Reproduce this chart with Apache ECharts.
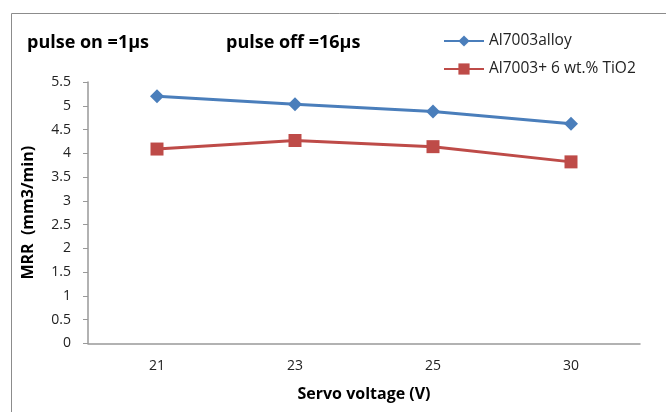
<!DOCTYPE html>
<html>
<head>
<meta charset="utf-8">
<script src="https://cdn.jsdelivr.net/npm/echarts@6/dist/echarts.min.js"></script>
<style>html,body{margin:0;padding:0;background:#fff}#c{width:666px;height:412px}</style>
</head>
<body>
<div id="c"></div>
<script>
const categories = ['21', '23', '25', '30'];
const alloyValues = [5.2, 5.03, 4.88, 4.62];
const tio2Values = [4.09, 4.27, 4.14, 3.82];
const seriesNames = ['Al7003alloy', 'Al7003+ 6 wt.% TiO2'];
const yTicks = { min: 0, max: 5.5, interval: 0.5 };

const font = '"Open Sans", "Liberation Sans", sans-serif';
const chart = echarts.init(document.getElementById('c'));
chart.setOption({
  animation: false,
  backgroundColor: '#fff',
  graphic: [
    { type: 'rect', left: 9, top: 11, shape: { width: 720, height: 460 }, style: { fill: 'none', stroke: '#8c8c8c', lineWidth: 1 }, silent: true },
    { type: 'text', left: 27, top: 34, style: { text: 'pulse on =1\u03bcs', font: 'bold 18px ' + font, fill: '#000' } },
    { type: 'text', left: 226, top: 34, style: { text: 'pulse off =16\u03bcs', font: 'bold 18px ' + font, fill: '#000' } }
  ],
  legend: {
    orient: 'vertical',
    left: 443,
    top: 33,
    padding: 0,
    itemWidth: 40,
    itemHeight: 14,
    itemGap: 12,
    textStyle: { fontFamily: font, fontSize: 15.5, lineHeight: 16, color: '#222' },
    data: seriesNames
  },
  grid: { left: 88, right: 26, top: 82, bottom: 68.5, containLabel: false },
  xAxis: {
    type: 'category',
    data: categories,
    boundaryGap: true,
    name: 'Servo voltage (V)',
    nameLocation: 'middle',
    nameGap: 43,
    nameTextStyle: { fontFamily: font, fontSize: 16, fontWeight: 'bold', color: '#000' },
    axisLine: { lineStyle: { color: '#999', width: 1.5 } },
    axisTick: { show: false },
    axisLabel: { fontFamily: font, fontSize: 14, color: '#222', margin: 16 }
  },
  yAxis: {
    type: 'value',
    min: yTicks.min,
    max: yTicks.max,
    interval: yTicks.interval,
    name: 'MRR  (mm3/min)',
    nameLocation: 'middle',
    nameGap: 52,
    nameTextStyle: { fontFamily: font, fontSize: 16, fontWeight: 'bold', color: '#000' },
    axisLine: { show: true, lineStyle: { color: '#999', width: 1.5 } },
    axisTick: { show: true, length: 5, lineStyle: { color: '#999' } },
    splitLine: { show: false },
    axisLabel: { fontFamily: font, fontSize: 14, color: '#222', margin: 17 }
  },
  series: [
    {
      name: seriesNames[0], type: 'line', data: alloyValues,
      symbol: 'diamond', symbolSize: 14,
      lineStyle: { color: '#4a7ebb', width: 3 },
      itemStyle: { color: '#4a7ebb' }
    },
    {
      name: seriesNames[1], type: 'line', data: tio2Values,
      symbol: 'rect', symbolSize: 13,
      lineStyle: { color: '#be4b48', width: 3 },
      itemStyle: { color: '#be4b48' }
    }
  ]
});
</script>
</body>
</html>
